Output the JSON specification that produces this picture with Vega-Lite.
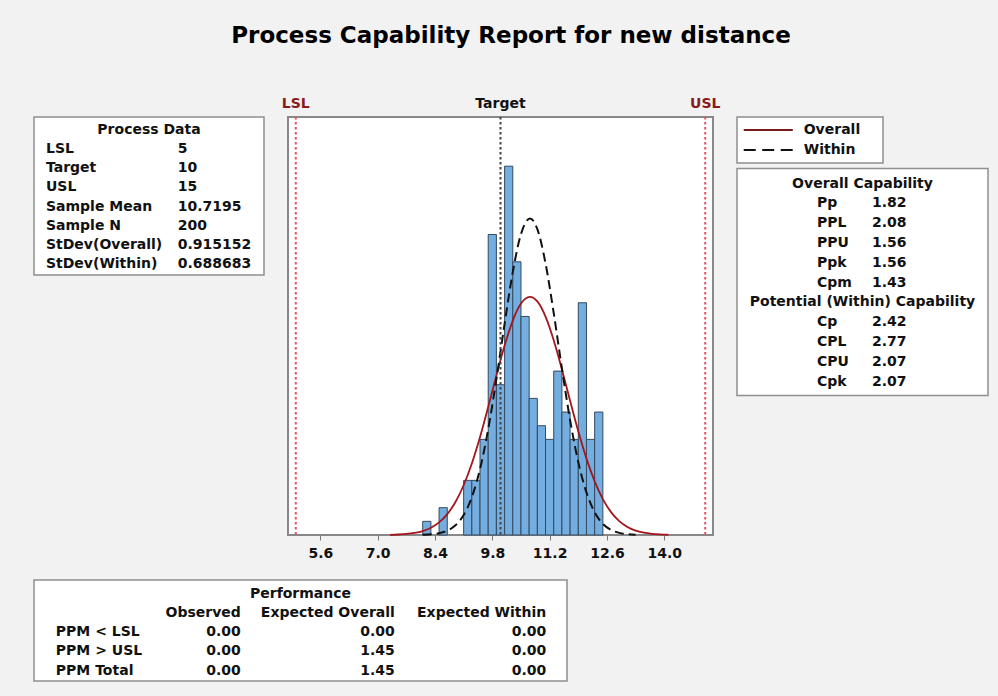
{
  "$schema": "https://vega.github.io/schema/vega-lite/v6.json",
  "background": "#f2f2f2",
  "padding": {"left": 33, "right": 11, "top": 25, "bottom": 16},
  "title": {"text": "Process Capability Report for new distance", "font": "DejaVu Sans", "fontWeight": "bold", "fontSize": 23, "color": "#000000", "anchor": "middle", "offset": 48},
  "config": {
    "view": {"stroke": "#8f8f8f", "strokeWidth": 1.5, "fill": "white"},
    "text": {"font": "DejaVu Sans", "fontWeight": "bold", "fontSize": 14, "baseline": "middle", "color": "#111111"}
  },
  "datasets": {
    "bins": [
      {"bin_start": 8.1, "bin_end": 8.3, "count": 1},
      {"bin_start": 8.5, "bin_end": 8.7, "count": 2},
      {"bin_start": 9.1, "bin_end": 9.3, "count": 4},
      {"bin_start": 9.3, "bin_end": 9.5, "count": 4},
      {"bin_start": 9.5, "bin_end": 9.7, "count": 7},
      {"bin_start": 9.7, "bin_end": 9.9, "count": 22},
      {"bin_start": 9.9, "bin_end": 10.1, "count": 11},
      {"bin_start": 10.1, "bin_end": 10.3, "count": 27},
      {"bin_start": 10.3, "bin_end": 10.5, "count": 20},
      {"bin_start": 10.5, "bin_end": 10.7, "count": 16},
      {"bin_start": 10.7, "bin_end": 10.9, "count": 10},
      {"bin_start": 10.9, "bin_end": 11.1, "count": 8},
      {"bin_start": 11.1, "bin_end": 11.3, "count": 7},
      {"bin_start": 11.3, "bin_end": 11.5, "count": 12},
      {"bin_start": 11.5, "bin_end": 11.7, "count": 9},
      {"bin_start": 11.7, "bin_end": 11.9, "count": 7},
      {"bin_start": 11.9, "bin_end": 12.1, "count": 17},
      {"bin_start": 12.1, "bin_end": 12.3, "count": 7},
      {"bin_start": 12.3, "bin_end": 12.5, "count": 9}
    ],
    "overall_fit": [
      {"x": 7.3, "density": 0.016}, {"x": 7.5, "density": 0.036}, {"x": 7.7, "density": 0.075},
      {"x": 7.9, "density": 0.152}, {"x": 8.1, "density": 0.29}, {"x": 8.3, "density": 0.529},
      {"x": 8.5, "density": 0.921}, {"x": 8.7, "density": 1.528}, {"x": 8.9, "density": 2.417},
      {"x": 9.1, "density": 3.643}, {"x": 9.3, "density": 5.237}, {"x": 9.5, "density": 7.176},
      {"x": 9.7, "density": 9.376}, {"x": 9.9, "density": 11.678}, {"x": 10.1, "density": 13.868},
      {"x": 10.3, "density": 15.699}, {"x": 10.5, "density": 16.942}, {"x": 10.72, "density": 17.437},
      {"x": 10.9, "density": 17.101}, {"x": 11.1, "density": 15.993}, {"x": 11.3, "density": 14.26},
      {"x": 11.5, "density": 12.12}, {"x": 11.7, "density": 9.822}, {"x": 11.9, "density": 7.589},
      {"x": 12.1, "density": 5.589}, {"x": 12.3, "density": 3.925}, {"x": 12.5, "density": 2.627},
      {"x": 12.7, "density": 1.677}, {"x": 12.9, "density": 1.02}, {"x": 13.1, "density": 0.592},
      {"x": 13.3, "density": 0.327}, {"x": 13.5, "density": 0.173}, {"x": 13.7, "density": 0.087},
      {"x": 13.9, "density": 0.042}, {"x": 14.1, "density": 0.019}
    ],
    "within_fit": [
      {"x": 8.1, "density": 0.017}, {"x": 8.3, "density": 0.048}, {"x": 8.5, "density": 0.129},
      {"x": 8.7, "density": 0.315}, {"x": 8.9, "density": 0.707}, {"x": 9.1, "density": 1.459},
      {"x": 9.3, "density": 2.769}, {"x": 9.5, "density": 4.831}, {"x": 9.7, "density": 7.746},
      {"x": 9.9, "density": 11.415}, {"x": 10.1, "density": 15.46}, {"x": 10.3, "density": 19.248},
      {"x": 10.5, "density": 22.024}, {"x": 10.72, "density": 23.171}, {"x": 10.9, "density": 22.389},
      {"x": 11.1, "density": 19.891}, {"x": 11.3, "density": 16.243}, {"x": 11.5, "density": 12.192},
      {"x": 11.7, "density": 8.41}, {"x": 11.9, "density": 5.333}, {"x": 12.1, "density": 3.107},
      {"x": 12.3, "density": 1.664}, {"x": 12.5, "density": 0.819}, {"x": 12.7, "density": 0.371},
      {"x": 12.9, "density": 0.154}, {"x": 13.1, "density": 0.059}, {"x": 13.3, "density": 0.021}
    ],
    "specs": [
      {"name": "LSL", "value": 5},
      {"name": "Target", "value": 10},
      {"name": "USL", "value": 15}
    ],
    "process_data": [
      {"statistic": "LSL", "value": "5"},
      {"statistic": "Target", "value": "10"},
      {"statistic": "USL", "value": "15"},
      {"statistic": "Sample Mean", "value": "10.7195"},
      {"statistic": "Sample N", "value": "200"},
      {"statistic": "StDev(Overall)", "value": "0.915152"},
      {"statistic": "StDev(Within)", "value": "0.688683"}
    ],
    "legend_items": [
      {"series": "Overall"},
      {"series": "Within"}
    ],
    "capability": [
      {"index": "Pp", "value": 1.82},
      {"index": "PPL", "value": 2.08},
      {"index": "PPU", "value": 1.56},
      {"index": "Ppk", "value": 1.56},
      {"index": "Cpm", "value": 1.43},
      {"index": "Cp", "value": 2.42},
      {"index": "CPL", "value": 2.77},
      {"index": "CPU", "value": 2.07},
      {"index": "Cpk", "value": 2.07}
    ],
    "performance": [
      {"measure": "PPM < LSL", "Observed": 0, "Expected Overall": 0, "Expected Within": 0},
      {"measure": "PPM > USL", "Observed": 0, "Expected Overall": 1.45, "Expected Within": 0},
      {"measure": "PPM Total", "Observed": 0, "Expected Overall": 1.45, "Expected Within": 0}
    ]
  },
  "bounds": "full",
  "spacing": 18,
  "vconcat": [
    {
      "bounds": "flush",
      "spacing": 24,
      "hconcat": [
        {
          "width": 230,
          "height": 158,
          "layer": [
            {
              "data": {"values": [{"heading": "Process Data"}]},
              "mark": {"type": "text", "align": "center"},
              "encoding": {
                "x": {"datum": 0.5, "type": "quantitative", "scale": {"domain": [0, 1]}, "axis": null},
                "y": {"field": "heading", "type": "nominal", "scale": {"type": "point", "domain": ["Process Data", "LSL", "Target", "USL", "Sample Mean", "Sample N", "StDev(Overall)", "StDev(Within)"], "range": [13, 147], "padding": 0}, "axis": null},
                "text": {"field": "heading"}
              }
            },
            {
              "data": {"name": "process_data"},
              "mark": {"type": "text", "align": "left"},
              "encoding": {
                "x": {"datum": 0.052, "type": "quantitative", "axis": null},
                "y": {"field": "statistic", "type": "nominal", "axis": null},
                "text": {"field": "statistic"}
              }
            },
            {
              "data": {"name": "process_data"},
              "mark": {"type": "text", "align": "left"},
              "encoding": {
                "x": {"datum": 0.625, "type": "quantitative", "axis": null},
                "y": {"field": "statistic", "type": "nominal", "axis": null},
                "text": {"field": "value"}
              }
            }
          ]
        },
        {
          "width": 425,
          "height": 418,
          "view": {"stroke": "#888888", "strokeWidth": 2, "fill": "white"},
          "layer": [
            {
              "data": {"name": "bins"},
              "mark": {"type": "rect", "fill": "#74aee0", "stroke": "#34495e", "strokeWidth": 1},
              "encoding": {
                "x": {
                  "field": "bin_start", "type": "quantitative",
                  "scale": {"domain": [4.81, 15.19], "nice": false, "zero": false},
                  "axis": {
                    "values": [5.6, 6.3, 7, 7.7, 8.4, 9.1, 9.8, 10.5, 11.2, 11.9, 12.6, 13.3, 14, 14.7],
                    "labelExpr": "round(datum.value * 10) % 14 === 0 ? format(datum.value, '.1f') : ''",
                    "title": null, "grid": false, "domain": false,
                    "tickSize": 5, "tickColor": "#777777", "tickWidth": 1,
                    "labelFont": "DejaVu Sans", "labelFontWeight": "bold", "labelFontSize": 14,
                    "labelColor": "#111111", "labelPadding": 6, "labelOverlap": false, "labelFlush": false
                  }
                },
                "x2": {"field": "bin_end"},
                "y": {"field": "count", "type": "quantitative", "scale": {"domain": [0, 30.6], "nice": false}, "axis": null},
                "y2": {"datum": 0}
              }
            },
            {
              "data": {"name": "overall_fit"},
              "mark": {"type": "line", "color": "#a3161c", "strokeWidth": 1.8, "interpolate": "monotone"},
              "encoding": {
                "x": {"field": "x", "type": "quantitative"},
                "y": {"field": "density", "type": "quantitative"}
              }
            },
            {
              "data": {"name": "within_fit"},
              "mark": {"type": "line", "color": "#111111", "strokeWidth": 2, "strokeDash": [9, 5], "interpolate": "monotone"},
              "encoding": {
                "x": {"field": "x", "type": "quantitative"},
                "y": {"field": "density", "type": "quantitative"}
              }
            },
            {
              "data": {"name": "specs"},
              "mark": {"type": "rule", "strokeDash": [2.5, 2.5], "strokeWidth": 2},
              "encoding": {
                "x": {"field": "value", "type": "quantitative"},
                "color": {"condition": {"test": "datum.name === 'Target'", "value": "#444444"}, "value": "#f0505a"}
              }
            },
            {
              "data": {"name": "specs"},
              "mark": {"type": "text", "dy": -13, "fontSize": 14},
              "encoding": {
                "x": {"field": "value", "type": "quantitative"},
                "y": {"datum": 30.6, "type": "quantitative"},
                "text": {"field": "name"},
                "color": {"condition": {"test": "datum.name === 'Target'", "value": "#111111"}, "value": "#8b1a1a"}
              }
            }
          ]
        },
        {
          "bounds": "flush",
          "spacing": 5.5,
          "vconcat": [
            {
              "width": 146,
              "height": 46,
              "data": {"name": "legend_items"},
              "layer": [
                {
                  "mark": {"type": "rule", "strokeWidth": 2},
                  "encoding": {
                    "x": {"datum": 0.046, "type": "quantitative", "scale": {"domain": [0, 1]}, "axis": null},
                    "x2": {"datum": 0.382},
                    "y": {"field": "series", "type": "nominal", "scale": {"type": "point", "domain": ["Overall", "Within"], "range": [13, 33], "padding": 0}, "axis": null},
                    "color": {"field": "series", "type": "nominal", "scale": {"domain": ["Overall", "Within"], "range": ["#7a1a1a", "#111111"]}, "legend": null},
                    "strokeDash": {"field": "series", "type": "nominal", "scale": {"domain": ["Overall", "Within"], "range": [[1, 0], [12, 6.5]]}, "legend": null}
                  }
                },
                {
                  "mark": {"type": "text", "align": "left"},
                  "encoding": {
                    "x": {"datum": 0.457, "type": "quantitative", "axis": null},
                    "y": {"field": "series", "type": "nominal", "axis": null},
                    "text": {"field": "series"}
                  }
                }
              ]
            },
            {
              "width": 251,
              "height": 227,
              "layer": [
                {
                  "data": {"values": [{"heading": "Overall Capability"}, {"heading": "Potential (Within) Capability"}]},
                  "mark": {"type": "text", "align": "center"},
                  "encoding": {
                    "x": {"datum": 0.5, "type": "quantitative", "scale": {"domain": [0, 1]}, "axis": null},
                    "y": {"field": "heading", "type": "nominal", "scale": {"type": "point", "domain": ["Overall Capability", "Pp", "PPL", "PPU", "Ppk", "Cpm", "Potential (Within) Capability", "Cp", "CPL", "CPU", "Cpk"], "range": [15, 213], "padding": 0}, "axis": null},
                    "text": {"field": "heading"}
                  }
                },
                {
                  "data": {"name": "capability"},
                  "mark": {"type": "text", "align": "left"},
                  "encoding": {
                    "x": {"datum": 0.319, "type": "quantitative", "axis": null},
                    "y": {"field": "index", "type": "nominal", "axis": null},
                    "text": {"field": "index"}
                  }
                },
                {
                  "data": {"name": "capability"},
                  "mark": {"type": "text", "align": "left"},
                  "encoding": {
                    "x": {"datum": 0.538, "type": "quantitative", "axis": null},
                    "y": {"field": "index", "type": "nominal", "axis": null},
                    "text": {"field": "value", "type": "quantitative", "format": ".2f"}
                  }
                }
              ]
            }
          ]
        }
      ]
    },
    {
      "width": 533,
      "height": 101,
      "layer": [
        {
          "data": {"values": [{"heading": "Performance"}]},
          "mark": {"type": "text", "align": "center"},
          "encoding": {
            "x": {"datum": 0.5, "type": "quantitative", "scale": {"domain": [0, 1]}, "axis": null},
            "y": {"field": "heading", "type": "nominal", "scale": {"type": "point", "domain": ["Performance", "columns", "PPM < LSL", "PPM > USL", "PPM Total"], "range": [14, 90.5], "padding": 0}, "axis": null},
            "text": {"field": "heading"}
          }
        },
        {
          "data": {"values": [{"column": "Observed", "row": "columns"}]},
          "mark": {"type": "text", "align": "right"},
          "encoding": {
            "x": {"datum": 0.388, "type": "quantitative", "axis": null},
            "y": {"field": "row", "type": "nominal", "axis": null},
            "text": {"field": "column"}
          }
        },
        {
          "data": {"values": [{"column": "Expected Overall", "row": "columns"}]},
          "mark": {"type": "text", "align": "right"},
          "encoding": {
            "x": {"datum": 0.677, "type": "quantitative", "axis": null},
            "y": {"field": "row", "type": "nominal", "axis": null},
            "text": {"field": "column"}
          }
        },
        {
          "data": {"values": [{"column": "Expected Within", "row": "columns"}]},
          "mark": {"type": "text", "align": "right"},
          "encoding": {
            "x": {"datum": 0.961, "type": "quantitative", "axis": null},
            "y": {"field": "row", "type": "nominal", "axis": null},
            "text": {"field": "column"}
          }
        },
        {
          "data": {"name": "performance"},
          "mark": {"type": "text", "align": "left"},
          "encoding": {
            "x": {"datum": 0.041, "type": "quantitative", "axis": null},
            "y": {"field": "measure", "type": "nominal", "axis": null},
            "text": {"field": "measure"}
          }
        },
        {
          "data": {"name": "performance"},
          "mark": {"type": "text", "align": "right"},
          "encoding": {
            "x": {"datum": 0.388, "type": "quantitative", "axis": null},
            "y": {"field": "measure", "type": "nominal", "axis": null},
            "text": {"field": "Observed", "type": "quantitative", "format": ".2f"}
          }
        },
        {
          "data": {"name": "performance"},
          "mark": {"type": "text", "align": "right"},
          "encoding": {
            "x": {"datum": 0.677, "type": "quantitative", "axis": null},
            "y": {"field": "measure", "type": "nominal", "axis": null},
            "text": {"field": "Expected Overall", "type": "quantitative", "format": ".2f"}
          }
        },
        {
          "data": {"name": "performance"},
          "mark": {"type": "text", "align": "right"},
          "encoding": {
            "x": {"datum": 0.961, "type": "quantitative", "axis": null},
            "y": {"field": "measure", "type": "nominal", "axis": null},
            "text": {"field": "Expected Within", "type": "quantitative", "format": ".2f"}
          }
        }
      ]
    }
  ]
}
